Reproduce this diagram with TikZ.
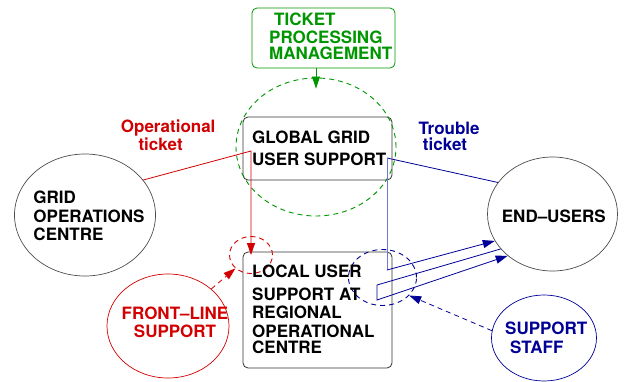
\documentclass[tikz,border=0pt]{standalone}
\usepackage{fontspec}
\setmainfont{TeX Gyre Heros}
\usepackage{xcolor}
\usepackage{tikz}
\definecolor{tpmgreen}{RGB}{0, 150, 0}
\definecolor{opred}{RGB}{210, 0, 0}
\definecolor{troubleblue}{RGB}{0, 0, 150}
\definecolor{faintblue}{RGB}{115, 115, 215}
\usetikzlibrary{shapes, arrows.meta, positioning, calc}

\begin{document}
\begin{tikzpicture}[
    x=1pt, y=-1pt,
    box/.style={rectangle, draw=black!80, line width=0.8pt, rounded corners=5pt, inner sep=0pt},
    blob/.style={ellipse, draw=black!70, line width=0.7pt, inner sep=0pt},
    zone/.style={ellipse, line width=0.9pt, dash pattern=on 5pt off 4pt, inner sep=0pt},
    txt/.style={font=\bfseries\fontsize{17}{19}\selectfont, align=left, inner sep=0pt, anchor=north west},
    arrow/.style={-{Triangle[length=12pt, width=8pt]}, line width=0.8pt},
    trouble/.style={draw=troubleblue, line width=0.8pt}
]
    \useasboundingbox (0, 0) rectangle (625, 381);

    % boxes
    \node[box, draw=tpmgreen, minimum width=143pt, minimum height=60pt] (tpm) at (323.5, 38) {};
    \node[box, minimum width=149pt, minimum height=63pt] (global) at (317.5, 148.5) {};
    \node[box, minimum width=149pt, minimum height=116pt] (local) at (317.5, 310) {};

    % ellipses
    \node[blob, minimum width=141pt, minimum height=122pt] (gridops) at (85, 215) {};
    \node[blob, minimum width=130pt, minimum height=114pt] (endusers) at (552.5, 214) {};
    \node[blob, draw=opred, minimum width=122pt, minimum height=104pt] (front) at (168, 326) {};
    \node[blob, draw=troubleblue, minimum width=105pt, minimum height=86pt] (staff) at (544, 338) {};

    % dashed zones
    \node[zone, draw=tpmgreen, minimum width=160pt, minimum height=138pt] (gzone) at (316, 147) {};
    \node[zone, draw=opred, minimum width=43pt, minimum height=37pt] (rzone) at (251, 255) {};
    \node[zone, draw=troubleblue, minimum width=68pt, minimum height=56pt] (bzone) at (382.5, 277.5) {};

    % texts
    \node[txt, text=tpmgreen] (tpmtxt) at (269, 13) {\hspace*{5pt}TICKET\\[-1pt]PROCESSING\\[-3.5pt]MANAGEMENT};
    \node[txt] (globaltxt) at (252, 130.7) {GLOBAL GRID\\[3pt]USER SUPPORT};
    \node[txt] (localtxt) at (252, 265) {LOCAL USER\\[3.2pt]SUPPORT AT\\[-0.7pt]REGIONAL\\OPERATIONAL\\[-3pt]CENTRE};
    \node[txt] (gridopstxt) at (33.3, 190.7) {GRID\\[-0.3pt]OPERATIONS\\[-0.3pt]CENTRE};
    \node[txt] (enduserstxt) at (501.7, 209.4) {END--USERS};
    \node[txt, align=center, text=opred, anchor=north] (fronttxt) at (175, 306.7) {FRONT--LINE\\[-0.7pt]SUPPORT};
    \node[txt, text=troubleblue] (stafftxt) at (505, 321.7) {SUPPORT\\\hspace*{5pt}STAFF};
    \node[txt, text=opred] (optxt) at (120.7, 119.4) {Operational\\[-0.7pt]\hspace*{17.6pt}ticket};
    \node[txt, text=troubleblue] (troubletxt) at (418.3, 122) {Trouble\\[-3.3pt]\hspace*{4.4pt}ticket};

    % bends
    \coordinate (redbend) at (251, 151);
    \coordinate (bluebend) at (387, 158);
    \coordinate (bluefoot) at (387, 270);
    \coordinate (backtop) at (377, 285);
    \coordinate (backfoot) at (377, 300);

    % connectors
    \draw[arrow, tpmgreen] (tpm.south -| gzone.north) -- ([yshift=-11pt]gzone.north);
    \draw[arrow, opred] (gridops.31) -- (redbend) -- (redbend |- rzone.center);
    \draw[arrow, opred, dash pattern=on 5pt off 4pt] (front) -- (rzone);
    \draw[trouble] (endusers.150) -- (bluebend);
    \draw[trouble, draw=faintblue] (bluebend) -- (bluefoot);
    \draw[trouble, arrow] (bluefoot) -- (endusers.205);
    \draw[trouble, arrow] (endusers.214) -- (backtop) -- (backfoot) -- (endusers.223);
    \draw[trouble, arrow, dash pattern=on 5pt off 4pt] (staff.172) -- (bzone.-34);
\end{tikzpicture}
\end{document}
